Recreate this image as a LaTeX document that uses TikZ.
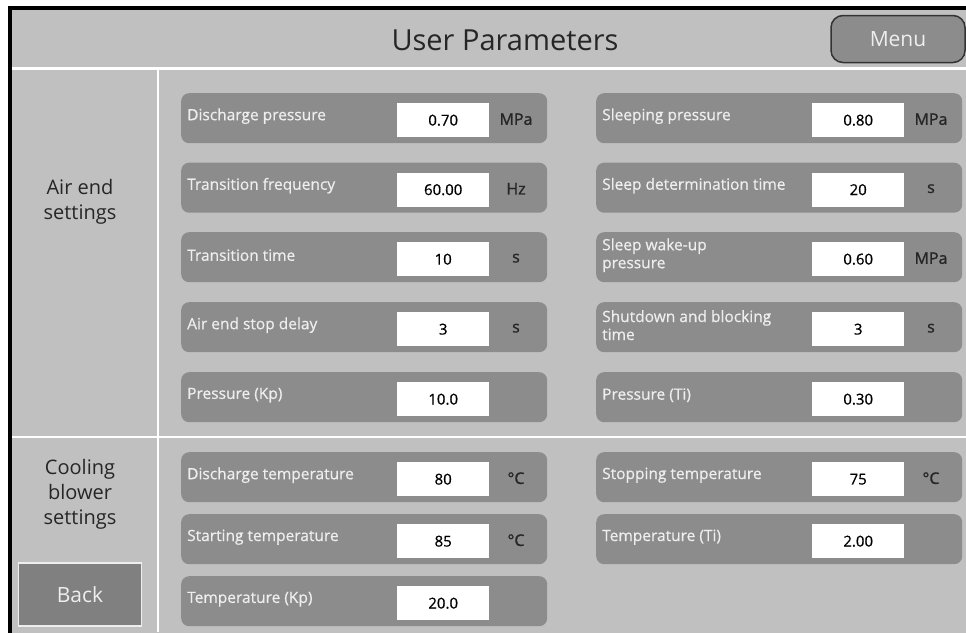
\documentclass[tikz,border=0pt]{standalone}
\usepackage{fontspec}
\setmainfont{Open Sans}
\newfontfamily\heavyfont[FakeBold=1.2]{Open Sans}
\newfontfamily\midfont[FakeBold=0.6]{Open Sans}
\definecolor{bggray}{RGB}{192,192,192}
\definecolor{pillgray}{RGB}{140,140,140}
\definecolor{btngray}{RGB}{128,128,128}
\definecolor{lbltext}{RGB}{238,238,238}
\tikzset{
  pill/.style={rectangle, rounded corners=8pt, fill=pillgray, minimum width=366pt, minimum height=50pt, inner sep=0pt},
  lbl/.style={text=lbltext, align=left, inner sep=0pt, font=\midfont\fontsize{15.5}{18}\selectfont},
  valbox/.style={fill=white, minimum width=92pt, minimum height=34pt, inner sep=0pt, font=\midfont\fontsize{15}{18}\selectfont, text=black},
  unitlbl/.style={text=black!85, inner sep=0pt, font=\heavyfont\fontsize{16}{18}\selectfont},
  sidelbl/.style={text=black!85, align=center, inner sep=0pt, font=\fontsize{20}{25}\selectfont},
  divline/.style={white, line width=2.5pt}
}
\newcommand\prow[6]{%
  \node[pill, anchor=north west] (#1) at (#2,#3) {};
  \node[lbl, anchor=west] (#1l) at ([xshift=6pt,yshift=2pt]#1.west) {#4};
  \node[valbox, anchor=north west] (#1v) at ([xshift=216pt,yshift=-10pt]#1.north west) {#5};
  \node[unitlbl] (#1u) at ([xshift=335pt,yshift=-1pt]#1.west) {#6};
}
\begin{document}
\begin{tikzpicture}[x=1pt,y=-1pt]
\useasboundingbox (0,0) rectangle (966,632);
\clip (0,0) rectangle (966,632);
\fill[white] (0,0) rectangle (966,632);
\fill[bggray] (10,8) rectangle (980,650);
% dividers
\draw[divline] (12,68.5) -- (966,68.5);
\draw[divline] (12,437) -- (966,437);
\draw[divline] (158,68.5) -- (158,632);
% frame
\draw[black, line width=4pt] (10,8) rectangle (980,650);
% header
\node[text=black!85, font=\fontsize{29}{33}\selectfont, inner sep=0pt] (title) at (505,40) {User Parameters};
\node[draw=black!80, line width=1.5pt, fill=pillgray, rounded corners=12pt, minimum width=134pt, minimum height=47pt, inner sep=0pt, text=lbltext, font=\fontsize{21}{24}\selectfont] (menu) at (898,39) {Menu};
% side labels
\node[sidelbl] (airend) at (80,202) {Air end\\settings};
\node[sidelbl] (cooling) at (80,494) {Cooling\\blower\\settings};
\node[draw=lbltext, line width=1.5pt, fill=btngray, minimum width=123pt, minimum height=63pt, inner sep=0pt, text=lbltext, font=\fontsize{21}{24}\selectfont] (back) at (80,594.5) {Back};
% air end rows, left column
\prow{a1}{181}{93}{Discharge pressure}{0.70}{MPa}
\prow{a2}{181}{162.5}{Transition frequency}{60.00}{Hz}
\prow{a3}{181}{232}{Transition time}{10}{s}
\prow{a4}{181}{302}{Air end stop delay}{3}{s}
\prow{a5}{181}{372}{Pressure (Kp)}{10.0}{}
% air end rows, right column
\prow{b1}{596}{93}{Sleeping pressure}{0.80}{MPa}
\prow{b2}{596}{162.5}{Sleep determination time}{20}{s}
\prow{b3}{596}{232}{Sleep wake-up\\pressure}{0.60}{MPa}
\prow{b4}{596}{302}{Shutdown and blocking\\time}{3}{s}
\prow{b5}{596}{372}{Pressure (Ti)}{0.30}{}
% cooling rows
\prow{c1}{181}{452}{Discharge temperature}{80}{°C}
\prow{c2}{181}{514}{Starting temperature}{85}{°C}
\prow{c3}{181}{576}{Temperature (Kp)}{20.0}{}
\prow{d1}{596}{452}{Stopping temperature}{75}{°C}
\prow{d2}{596}{514}{Temperature (Ti)}{2.00}{}
\end{tikzpicture}
\end{document}
